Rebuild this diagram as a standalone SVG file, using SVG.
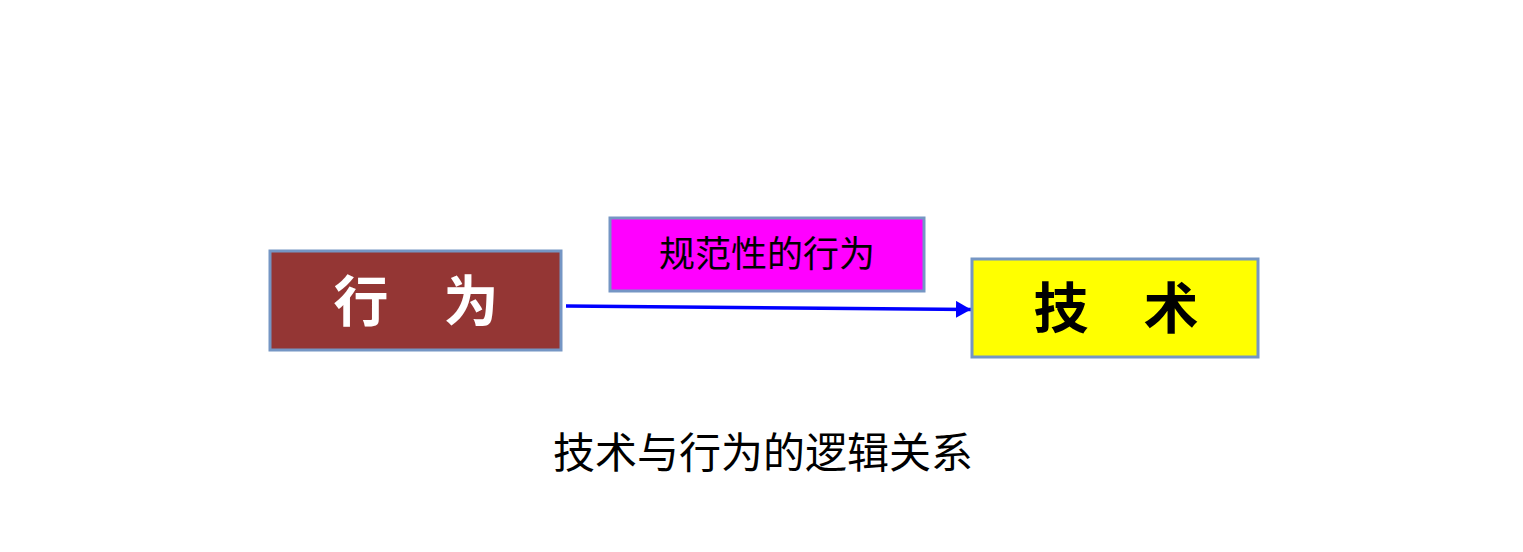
<svg xmlns="http://www.w3.org/2000/svg" width="1523" height="552" viewBox="0 0 1523 552">
<style>
.box{stroke:#7596c4;stroke-width:3}
.t{font-family:"Noto Sans CJK SC","Noto Sans",sans-serif;text-anchor:middle}
.big{font-size:55px;font-weight:bold}
</style>
<defs>
<marker id="ah" viewBox="0 0 15 17" refX="15" refY="8.5" markerWidth="15" markerHeight="17" orient="auto" markerUnits="userSpaceOnUse">
<path d="M0,0 L15,8.5 L0,17 z" fill="#0000ff"/>
</marker>
</defs>
<rect width="1523" height="552" fill="#ffffff"/>
<g id="connectors">
<line x1="566" y1="306" x2="971" y2="309.5" stroke="#0000ff" stroke-width="3.5" marker-end="url(#ah)"/>
</g>
<g id="node-xingwei">
<rect class="box" x="270" y="251" width="291" height="99" fill="#943634"/>
<text class="t big" x="416" y="321" fill="#ffffff">行　为</text>
</g>
<g id="node-label">
<rect class="box" x="610" y="218" width="314" height="73" fill="#ff00ff"/>
<text class="t" x="767" y="267" font-size="36" fill="#000000">规范性的行为</text>
</g>
<g id="node-jishu">
<rect class="box" x="972" y="259" width="286" height="98" fill="#ffff00"/>
<text class="t big" x="1116" y="328" fill="#000000">技　术</text>
</g>
<g id="caption">
<text class="t" x="763" y="468" font-size="42" fill="#000000">技术与行为的逻辑关系</text>
</g>
</svg>
